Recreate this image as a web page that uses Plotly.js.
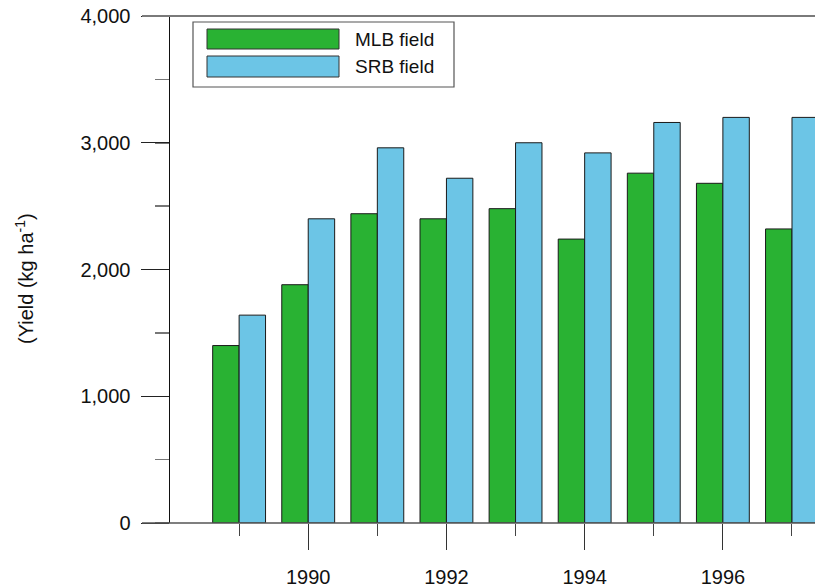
<!DOCTYPE html>
<html>
<head>
<meta charset="utf-8">
<script src="https://cdn.plot.ly/plotly-3.0.1.min.js"></script>
<style>html,body{margin:0;padding:0;background:#fff;}#chart{width:815px;height:588px;}</style>
</head>
<body>
<div id="chart"></div>
<script>
const years = [1989, 1990, 1991, 1992, 1993, 1994, 1995, 1996, 1997];
const mlbYield = [1400, 1880, 2440, 2400, 2480, 2240, 2760, 2680, 2320];
const srbYield = [1640, 2400, 2960, 2720, 3000, 2920, 3160, 3200, 3200];
const seriesNames = ["MLB field", "SRB field"];
const seriesColors = ["#29b233", "#6cc5e6"];
const xTickVals = [1990, 1992, 1994, 1996];
const yTickVals = [0, 1000, 2000, 3000, 4000];
const yTickText = ["0", "1,000", "2,000", "3,000", "4,000"];

const FONT = "Liberation Sans, Arial, Helvetica, sans-serif";
const W = 815, H = 588, L = 170, R = 0, T = 16, B = 65;
const pw = W - L - R, ph = H - T - B;
const px = v => (v - L) / pw;
const py = v => (H - B - v) / ph;

const traces = [mlbYield, srbYield].map((vals, i) => ({
  type: "bar",
  x: years,
  y: vals,
  name: seriesNames[i],
  marker: { color: seriesColors[i], line: { color: "#1a1a1a", width: 1 } },
  showlegend: false,
  hoverinfo: "skip"
}));

const shapes = [
  { type: "line", xref: "paper", yref: "paper", x0: px(142), x1: 1, y0: 1, y1: 1, line: { color: "#7a7a7a", width: 2 } },
  { type: "line", xref: "paper", yref: "paper", x0: px(142), x1: 1, y0: 0, y1: 0, line: { color: "#555", width: 1.5 } },
  { type: "rect", xref: "paper", yref: "paper", x0: px(193), x1: px(454), y0: py(22), y1: py(87), line: { color: "#555", width: 1.2 }, fillcolor: "#fff" }
];
const annotations = [
  { xref: "paper", yref: "paper", x: px(24), y: py(279), text: "(Yield (kg ha<sup>-1</sup>)", textangle: -90, showarrow: false, font: { family: FONT, size: 20, color: "#111" }, xanchor: "center", yanchor: "middle" }
];
const swY = [[29, 49], [56, 77]];
seriesNames.forEach((n, i) => {
  shapes.push({ type: "rect", xref: "paper", yref: "paper", x0: px(207), x1: px(339), y0: py(swY[i][0]), y1: py(swY[i][1]), fillcolor: seriesColors[i], line: { color: "#333", width: 1 } });
  annotations.push({ xref: "paper", yref: "paper", x: px(353), y: py((swY[i][0] + swY[i][1]) / 2), text: n, showarrow: false, xanchor: "left", yanchor: "middle", font: { family: FONT, size: 19, color: "#111" } });
});

const layout = {
  width: W, height: H,
  margin: { l: L, r: R, t: T, b: B, pad: 0 },
  paper_bgcolor: "#fff", plot_bgcolor: "#fff",
  barmode: "group", bargap: 0.235, bargroupgap: 0,
  font: { family: FONT, size: 20, color: "#111" },
  xaxis: {
    range: [1988.0, 1997.333],
    showgrid: false, zeroline: false, showline: false,
    ticks: "outside", ticklen: 26, tickwidth: 1, tickcolor: "#333",
    tickvals: xTickVals, ticktext: xTickVals.map(String),
    ticklabelstandoff: 10,
    minor: { tickvals: years, ticks: "outside", ticklen: 12, tickwidth: 1, tickcolor: "#444", showgrid: false },
    tickfont: { family: FONT, size: 20, color: "#111" }
  },
  yaxis: {
    range: [0, 4000],
    showgrid: false, zeroline: false,
    showline: true, linecolor: "#111", linewidth: 1.5,
    ticks: "outside", ticklen: 28, tickwidth: 1, tickcolor: "#222",
    tickvals: yTickVals, ticktext: yTickText,
    ticklabelstandoff: 6,
    minor: { dtick: 500, tick0: 0, ticks: "outside", ticklen: 14, tickwidth: 1.5, tickcolor: "#777", showgrid: false },
    tickfont: { family: FONT, size: 20, color: "#111" }
  },
  shapes: shapes,
  annotations: annotations
};

Plotly.newPlot("chart", traces, layout, { displayModeBar: false, staticPlot: true });
</script>
</body>
</html>
